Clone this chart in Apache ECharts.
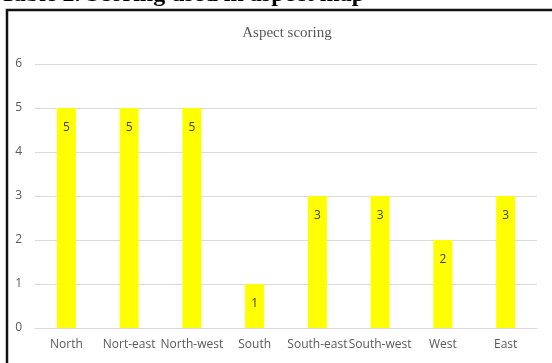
<!DOCTYPE html>
<html>
<head>
<meta charset="utf-8">
<script src="https://cdn.jsdelivr.net/npm/echarts@6/dist/echarts.min.js"></script>
<style>
  html, body { margin: 0; padding: 0; background: #fff; }
  #chart { width: 552px; height: 363px; }
</style>
</head>
<body>
<div id="chart"></div>
<script>
// Aspect classes and the score given to each
const aspects = ['North', 'Nort-east', 'North-west', 'South', 'South-east', 'South-west', 'West', 'East'];
const scores = [5, 5, 5, 1, 3, 3, 2, 3];
const yTicks = [0, 1, 2, 3, 4, 5, 6];

const chart = echarts.init(document.getElementById('chart'));

chart.setOption({
  animation: false,
  backgroundColor: '#ffffff',
  title: {
    text: 'Aspect scoring',
    left: 282,
    top: 21,
    textAlign: 'center',
    textStyle: {
      fontFamily: 'Liberation Serif',
      fontWeight: 'normal',
      fontSize: 15,
      color: '#595959'
    }
  },
  graphic: [
    {
      type: 'text',
      x: 0,
      y: 0,
      style: {
        x: 0,
        y: -17,
        text: 'Table 2. Scoring used in aspect map',
        font: 'bold 24px "Liberation Serif"',
        fill: '#000000'
      }
    },
    {
      type: 'polyline',
      shape: { points: [[7, 370], [7, 10], [560, 10]] },
      style: { stroke: '#111111', lineWidth: 2.5, fill: 'none' }
    }
  ],
  grid: { left: 35, right: 15, top: 64, bottom: 35 },
  xAxis: {
    type: 'category',
    data: aspects,
    axisLine: { lineStyle: { color: '#d9d9d9' } },
    axisTick: { show: false },
    axisLabel: {
      interval: 0,
      margin: 11,
      fontFamily: 'Open Sans',
      fontSize: 12,
      color: '#595959'
    }
  },
  yAxis: {
    type: 'value',
    min: yTicks[0],
    max: yTicks[yTicks.length - 1],
    interval: 1,
    axisLine: { show: false },
    axisTick: { show: false },
    splitLine: { lineStyle: { color: '#d9d9d9' } },
    axisLabel: {
      margin: 13,
      fontFamily: 'Open Sans',
      fontSize: 12,
      color: '#595959'
    }
  },
  series: [{
    type: 'bar',
    data: scores,
    barWidth: 19,
    itemStyle: { color: '#ffff00' },
    label: {
      show: true,
      position: 'insideTop',
      distance: 14,
      fontFamily: 'Open Sans',
      fontSize: 12,
      color: '#404040'
    }
  }]
});
</script>
</body>
</html>
